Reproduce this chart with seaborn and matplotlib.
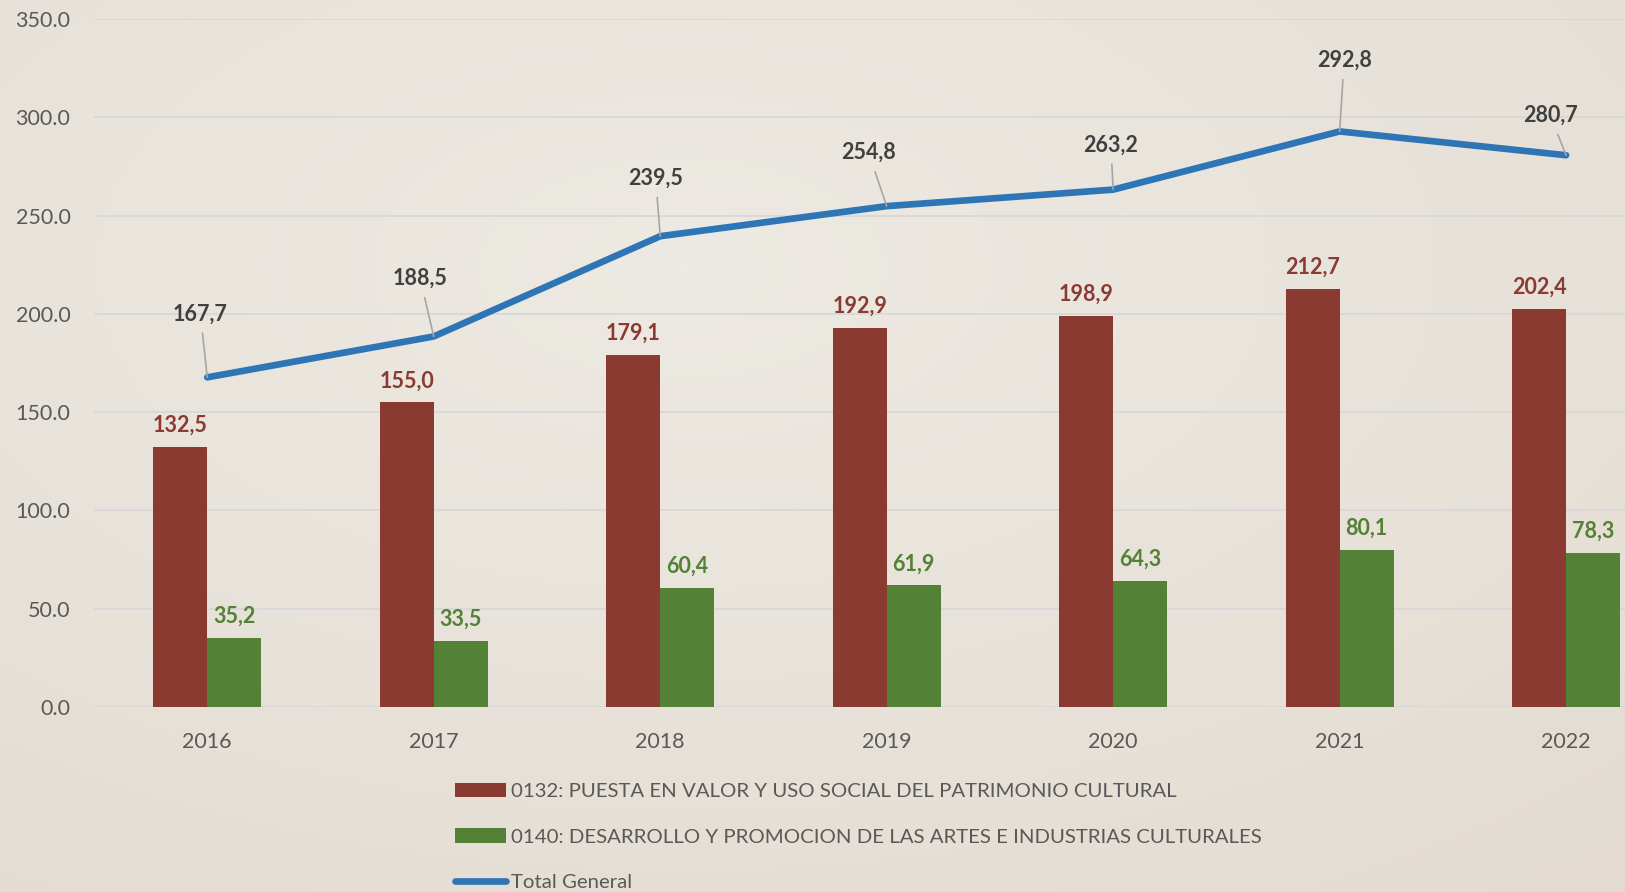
import matplotlib
matplotlib.use('Agg')
import matplotlib.pyplot as plt
from matplotlib.lines import Line2D
from matplotlib.patches import Patch
import numpy as np
import pandas as pd
import seaborn as sns

YEARS = ['2016', '2017', '2018', '2019', '2020', '2021', '2022']
PATRIMONIO = [132.5, 155.0, 179.1, 192.9, 198.9, 212.7, 202.4]
ARTES = [35.2, 33.5, 60.4, 61.9, 64.3, 80.1, 78.3]
TOTAL = [167.7, 188.5, 239.5, 254.8, 263.2, 292.8, 280.7]
SERIES = [
    '0132: PUESTA EN VALOR Y USO SOCIAL DEL PATRIMONIO CULTURAL',
    '0140: DESARROLLO Y PROMOCION DE LAS ARTES E INDUSTRIAS CULTURALES',
]
TOTAL_NAME = 'Total General'

# where the total labels sit (offset in categories, label height in data units)
TOTAL_LABEL_DX = [-0.03, -0.06, -0.02, -0.08, -0.01, 0.02, -0.07]
TOTAL_LABEL_Y = [200, 218, 269, 282, 286, 329, 301]

RED = '#8B3A31'
GREEN = '#538135'
BLUE = '#2E75B6'
GREY_TXT = '#595959'
DARK_TXT = '#404040'


def fmt_es(v):
    return f'{v:.1f}'.replace('.', ',')


def main() -> None:
    sns.set_theme(style='white')
    plt.rcParams['font.family'] = ['Lato', 'DejaVu Sans']

    df = pd.DataFrame({
        'year': YEARS * 2,
        'value': PATRIMONIO + ARTES,
        'program': [SERIES[0]] * len(YEARS) + [SERIES[1]] * len(YEARS),
    })

    fig = plt.figure(figsize=(16.25, 8.92), dpi=100)

    # soft beige background with a lighter centre
    bg = fig.add_axes([0, 0, 1, 1], zorder=-10)
    yy, xx = np.mgrid[0:1:300j, 0:1:540j]
    r = np.sqrt(((xx - 0.42) / 0.9) ** 2 + ((yy - 0.3) / 0.9) ** 2)
    light = np.array([0.930, 0.918, 0.890])
    dark = np.array([0.890, 0.860, 0.822])
    t = np.clip(r, 0, 1)[..., None]
    bg.imshow(light * (1 - t) + dark * t, aspect='auto', extent=(0, 1, 0, 1))
    bg.axis('off')

    ax = fig.add_axes([94 / 1625, 185 / 892, 1 - 94 / 1625, 688 / 892])
    ax.set_facecolor('none')

    sns.barplot(data=df, x='year', y='value', hue='program', order=YEARS,
                hue_order=SERIES, palette=[RED, GREEN], saturation=1, width=0.476,
                gap=0, linewidth=0, legend=False, ax=ax, zorder=2)
    sns.lineplot(x=np.arange(len(YEARS)), y=TOTAL, color=BLUE, linewidth=4.8,
                 ax=ax, zorder=3, solid_capstyle='round')

    for cont, col in zip(ax.containers, [RED, GREEN]):
        ax.bar_label(cont, labels=[fmt_es(b.get_height()) for b in cont],
                     padding=8, color=col, fontsize=15.5, fontweight='bold')

    for i, v in enumerate(TOTAL):
        ax.annotate(fmt_es(v), xy=(i, v), xytext=(i + TOTAL_LABEL_DX[i], TOTAL_LABEL_Y[i]),
                    ha='center', va='center', fontsize=15.5, fontweight='bold', color=DARK_TXT,
                    arrowprops=dict(arrowstyle='-', color='#A6A6A6', lw=1.2,
                                    shrinkA=4, shrinkB=0),
                    zorder=4)

    ax.set_ylim(0, 350)
    ax.set_xlim(-0.5, 6.26)
    ax.set_yticks(np.arange(0, 351, 50))
    ax.set_yticklabels([f'{v:.1f}' for v in np.arange(0, 351, 50)])
    ax.yaxis.grid(True, color='#D8D8DA', linewidth=1.3, zorder=0)
    ax.set_axisbelow(True)
    ax.tick_params(axis='y', length=0, pad=17, labelsize=15.5, labelcolor=GREY_TXT)
    ax.tick_params(axis='x', length=0, pad=18, labelsize=15.5, labelcolor=GREY_TXT)
    ax.set_xlabel('')
    ax.set_ylabel('')
    sns.despine(ax=ax, left=True, bottom=True)

    handles = [
        Patch(facecolor=RED, edgecolor='none', label=SERIES[0]),
        Patch(facecolor=GREEN, edgecolor='none', label=SERIES[1]),
        Line2D([0], [0], color=BLUE, linewidth=4.8, solid_capstyle='round', label=TOTAL_NAME),
    ]
    fig.legend(handles=handles, loc='upper left', bbox_to_anchor=(455 / 1625, 1 - 783 / 892),
               frameon=False, fontsize=14.7, labelcolor=GREY_TXT, handlelength=2.5,
               handleheight=0.7, handletextpad=0.25, labelspacing=1.38, borderaxespad=0,
               borderpad=0)

    fig.savefig('out.png', dpi=100)
    plt.close(fig)


if __name__ == '__main__':
    main()
